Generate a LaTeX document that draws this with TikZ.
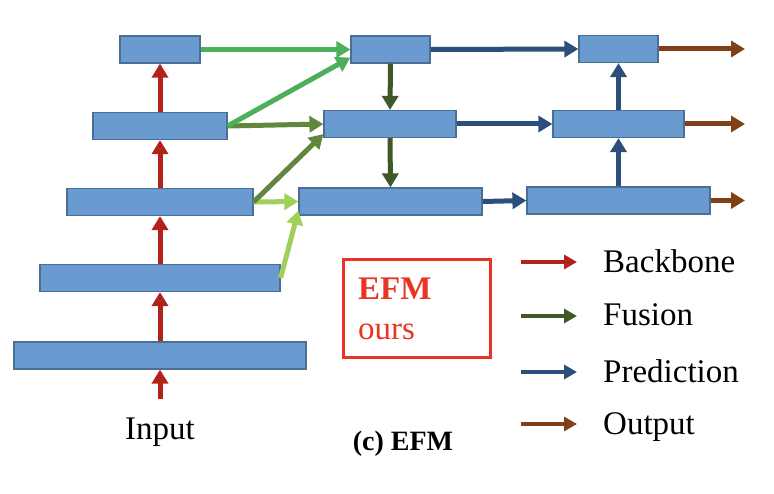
\documentclass[tikz,border=0pt]{standalone}
\usepackage{fontspec}
\setmainfont{Liberation Serif}
\usetikzlibrary{positioning,arrows.meta}

\definecolor{mapfill}{RGB}{106,155,208}
\definecolor{mapline}{RGB}{75,110,150}
\definecolor{bbred}{RGB}{178,34,26}
\definecolor{latgreen}{RGB}{76,175,90}
\definecolor{olivegreen}{RGB}{96,135,60}
\definecolor{lightgreen}{RGB}{160,208,90}
\definecolor{fusegreen}{RGB}{62,88,40}
\definecolor{predblue}{RGB}{44,78,122}
\definecolor{outbrown}{RGB}{128,64,24}
\definecolor{efmred}{RGB}{232,52,36}

\begin{document}
\begin{tikzpicture}[x=1pt,y=-1pt,
    fmap/.style={draw=mapline,fill=mapfill,line width=1.2pt,inner sep=0pt,minimum height=27pt},
    flow/.style={line width=5pt,-{Triangle[length=14pt,width=16pt]}},
    key/.style={line width=4pt,-{Triangle[length=13pt,width=14pt]}},
    lbl/.style={font=\fontsize{33}{40}\selectfont,inner sep=0pt}]
        \useasboundingbox (0,0) rectangle (774,494);

        % backbone pyramid
        \node[fmap,minimum width=80pt]  (b5) at (160,49.5) {};
        \node[fmap,minimum width=134pt] (b4) at (160,126) {};
        \node[fmap,minimum width=186pt] (b3) at (160,202) {};
        \node[fmap,minimum width=240pt] (b2) at (160,278) {};
        \node[fmap,minimum width=292pt] (b1) at (160,355.5) {};

        % fusion and prediction columns
        \node[fmap,minimum width=79pt]  (f5) at (390.5,49.5) {};
        \node[fmap,minimum width=132pt] (f4) at (390,124) {};
        \node[fmap,minimum width=183pt] (f3) at (390.5,201.5) {};
        \node[fmap,minimum width=79pt]  (p5) at (618.5,49) {};
        \node[fmap,minimum width=131pt] (p4) at (618.5,124) {};
        \node[fmap,minimum width=183pt] (p3) at (618.5,200.5) {};

        \coordinate (in) at (160,399);
        \coordinate (o5) at (745,49);
        \coordinate (o4) at (745,124);
        \coordinate (o3) at (745,200.5);

        \draw[flow,bbred] (in) -- (b1.south);
        \draw[flow,bbred] (b1.north) -- (b2.south);
        \draw[flow,bbred] (b2.north) -- (b3.south);
        \draw[flow,bbred] (b3.north) -- (b4.south);
        \draw[flow,bbred] (b4.north) -- (b5.south);

        % lateral links
        \draw[flow,lightgreen] (b3.east) -- (f3.west);
        \draw[flow,lightgreen] (b2.east) -- ([yshift=5pt]f3.south west);
        \draw[flow,olivegreen] (b3.east) -- ([yshift=4pt]f4.south west);
        \draw[flow,olivegreen] (b4.east) -- (f4.west);
        \draw[flow,latgreen] (b4.east) -- ([yshift=6pt]f5.south west);
        \draw[flow,latgreen] (b5.east) -- (f5.west);

        \draw[flow,fusegreen] (f5.south) -- (f4.north);
        \draw[flow,fusegreen] (f4.south) -- (f3.north);

        \draw[flow,predblue] (f5.east) -- (p5.west);
        \draw[flow,predblue] (f4.east) -- (p4.west);
        \draw[flow,predblue] (f3.east) -- (p3.west);
        \draw[flow,predblue] (p3.north) -- (p4.south);
        \draw[flow,predblue] (p4.north) -- (p5.south);

        \draw[flow,outbrown] (p5.east) -- (o5);
        \draw[flow,outbrown] (p4.east) -- (o4);
        \draw[flow,outbrown] (p3.east) -- (o3);

        \node[lbl,anchor=base] (input) at (160,439) {Input};

        % ours box
        \node[draw=efmred,line width=3pt,minimum width=147pt,minimum height=98pt] (efm) at (416.5,309) {};
        \node[lbl,anchor=base west,text=efmred] (efmname) at (358,300) {\bfseries EFM};
        \node[lbl,anchor=base west,text=efmred] (efmours) at (358,340) {ours};
        \node[inner sep=0pt,anchor=base,font=\fontsize{28}{34}\selectfont\bfseries] (caption) at (403,450) {(c) EFM};

        % legend
        \foreach \name/\col/\y/\yb in {Backbone/bbred/262/273,Fusion/fusegreen/316/326,
                                       Prediction/predblue/372/382,Output/outbrown/424/434}{
          \coordinate (k\name) at (521,\y);
          \coordinate (e\name) at (577,\y);
          \draw[key,\col] (k\name) -- (e\name);
          \node[lbl,anchor=base west] (t\name) at (603,\yb) {\name};
        }
      \end{tikzpicture}
\end{document}
